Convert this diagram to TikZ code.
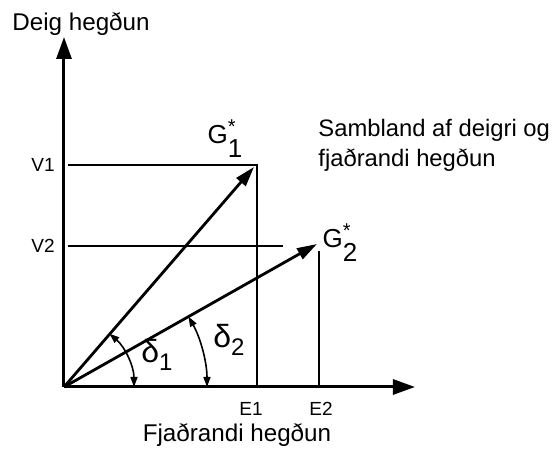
\documentclass[tikz,border=0pt]{standalone}
\usepackage{fontspec}
\setmainfont{Liberation Sans}
\usetikzlibrary{positioning, arrows.meta}

\newcommand{\gvec}[1]{G\rlap{\raisebox{5pt}{\fontsize{10}{10}\selectfont *}}\raisebox{-7pt}{#1}}

\begin{document}
\begin{tikzpicture}[
        x=0.5pt, y=0.5pt,
        axis/.style={line width=1.5pt, -{Triangle[length=11pt, width=7.5pt]}},
        vec/.style={line width=1.4pt, -{Triangle[length=10pt, width=6pt]}},
        guide/.style={line width=0.6pt},
        angarr/.style={line width=0.8pt, {Triangle[length=5pt, width=3.5pt]}-{Triangle[length=5pt, width=3.5pt]}},
        lbl/.style={font=\fontsize{12.1}{14}\selectfont, inner sep=0pt},
        tick/.style={font=\fontsize{9.5}{10}\selectfont, inner sep=0pt},
        gname/.style={font=\fontsize{13}{15}\selectfont, inner sep=0pt},
        dname/.style={font=\fontsize{16}{18}\selectfont, inner sep=0pt}
    ]

    \useasboundingbox (-64,-63) rectangle (490,387);

    % points
    \coordinate (O) at (0,0);
    \coordinate (xend) at (351,0);
    \coordinate (yend) at (0,350);
    \coordinate (g1) at (190,220);
    \coordinate (g2) at (253,143);
    \coordinate (v1) at (4,222);
    \coordinate (c1) at (193,222);
    \coordinate (e1) at (193,0);
    \coordinate (v2) at (4,141);
    \coordinate (c2) at (219,141);
    \coordinate (t2) at (255,136);
    \coordinate (e2) at (255,0);

    % guide lines
    \draw[guide] (v1) -- (c1) -- (e1);
    \draw[guide] (v2) -- (c2);
    \draw[guide] (t2) -- (e2);

    % axes
    \draw[axis] (O) -- (xend);
    \draw[axis] (O) -- (yend);

    % vectors
    \draw[vec] (O) -- (g1);
    \draw[vec] (O) -- (g2);

    % angles
    \draw[angarr] ([shift={(49.6:70)}]O) arc (49.6:0:70);
    \draw[angarr] ([shift={(29.5:143)}]O) arc (29.5:0:143);

    % axis labels
    \node[lbl, anchor=base west] (ylbl) at (-52,356) {Deig hegðun};
    \node[lbl] (xlbl) at (173,-48) {Fjaðrandi hegðun};

    % ticks
    \node[tick] (v1lbl) at (-21,222) {V1};
    \node[tick] (v2lbl) at (-21,141) {V2};
    \node[tick, below=11pt of e1, anchor=center, xshift=-3pt] (e1lbl) {E1};
    \node[tick, below=11pt of e2, anchor=center, xshift=1pt] (e2lbl) {E2};

    % vector names
    \node[gname] (g1lbl) at (161,248) {\gvec{1}};
    \node[gname] (g2lbl) at (276,144) {\gvec{2}};

    % angle names
    \node[dname] (d1) at (93,32) {δ\raisebox{-4pt}{\fontsize{12}{12}\selectfont 1}};
    \node[dname] (d2) at (165,47) {δ\raisebox{-4pt}{\fontsize{12}{12}\selectfont 2}};

    % note
    \node[lbl, font=\fontsize{11.9}{15}\selectfont, anchor=west, align=left] (note) at (254,242)
        {Sambland af deigri og\\fjaðrandi hegðun};

    \end{tikzpicture}
\end{document}
